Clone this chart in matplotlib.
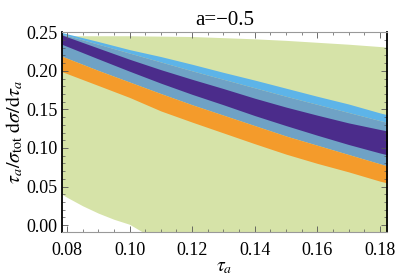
import numpy as np
import matplotlib.pyplot as plt
import matplotlib.ticker as ticker

plt.rc('font', family='Liberation Serif')
plt.rc('mathtext', fontset='stix')

# band edges
x = [0.078, 0.09, 0.10, 0.11, 0.12, 0.13, 0.14, 0.15, 0.16, 0.17, 0.18, 0.183]
lightblue_hi = [0.250, 0.238, 0.2275, 0.2185, 0.2085, 0.198, 0.188, 0.1775, 0.167, 0.157, 0.1455, 0.1425]
steel_hi = [0.248, 0.2345, 0.223, 0.2115, 0.200, 0.189, 0.178, 0.167, 0.1565, 0.146, 0.1355, 0.1325]
purple_hi = [0.247, 0.2295, 0.215, 0.2015, 0.189, 0.177, 0.1645, 0.153, 0.1425, 0.1325, 0.124, 0.1215]
purple_lo = [0.235, 0.2155, 0.1995, 0.184, 0.1695, 0.156, 0.142, 0.129, 0.1165, 0.1045, 0.0935, 0.0905]
orange_hi = [0.2195, 0.2005, 0.1855, 0.1705, 0.156, 0.1425, 0.129, 0.1155, 0.1035, 0.0915, 0.0795, 0.076]
orange_lo = [0.1995, 0.181, 0.1655, 0.148, 0.1335, 0.1195, 0.1055, 0.092, 0.080, 0.069, 0.057, 0.054]

green_x = [0.078, 0.08, 0.085, 0.09, 0.095, 0.10, 0.105, 0.11, 0.12, 0.13, 0.14, 0.15, 0.16, 0.17, 0.18, 0.183]
green_hi = [0.2455, 0.2455, 0.2455, 0.2455, 0.2455, 0.2455, 0.2452, 0.245, 0.2445, 0.243, 0.2415, 0.2395, 0.237, 0.2345, 0.2315, 0.2305]
green_lo = [0.041, 0.036, 0.025, 0.0155, 0.0075, 0.001, -0.011, -0.02, -0.03, -0.04, -0.05, -0.05, -0.05, -0.05, -0.05, -0.05]

c_green = '#d6e3a8'
c_lightblue = '#5db4e8'
c_steel = '#6fa2c5'
c_purple = '#4b2c8b'
c_orange = '#f49b2b'

fig = plt.figure(figsize=(3.99, 2.80), dpi=100)
ax = fig.add_axes([0.1554, 0.1714, 0.8146, 0.7161])

ax.fill_between(green_x, green_lo, green_hi, color=c_green, lw=0)
ax.fill_between(x, steel_hi, lightblue_hi, color=c_lightblue, lw=0)
ax.fill_between(x, orange_hi, steel_hi, color=c_steel, lw=0)
ax.fill_between(x, purple_lo, purple_hi, color=c_purple, lw=0)
ax.fill_between(x, orange_lo, orange_hi, color=c_orange, lw=0)

ax.set_xlim(0.0784, 0.1823)
ax.set_ylim(-0.009, 0.251)

ax.xaxis.set_major_locator(ticker.MultipleLocator(0.02))
ax.xaxis.set_minor_locator(ticker.MultipleLocator(0.005))
ax.yaxis.set_major_locator(ticker.MultipleLocator(0.05))
ax.yaxis.set_minor_locator(ticker.MultipleLocator(0.01))
ax.xaxis.set_major_formatter(ticker.FormatStrFormatter('%.2f'))
ax.yaxis.set_major_formatter(ticker.FormatStrFormatter('%.2f'))
ax.tick_params(which='both', direction='in', top=True, right=True, labelsize=13,
               color='#555555')
ax.tick_params(axis='x', pad=7)
ax.tick_params(axis='y', pad=3)
ax.tick_params(which='major', length=4, width=0.6)
ax.tick_params(which='minor', length=2, width=0.5)

for s in ['top', 'bottom']:
    ax.spines[s].set_color('#999999')
    ax.spines[s].set_linewidth(0.8)
for s in ['left', 'right']:
    ax.spines[s].set_color('black')
    ax.spines[s].set_linewidth(1.3)

ax.set_title('a=\u22120.5', fontsize=15, pad=5)
ax.set_xlabel(r'$\tau_a$', fontsize=14, labelpad=0)
ax.set_ylabel(r'$\tau_a/\sigma_{\rm tot}\;{\rm d}\sigma/{\rm d}\tau_a$', fontsize=14.5, labelpad=1)

plt.savefig('out.png', dpi=100)
